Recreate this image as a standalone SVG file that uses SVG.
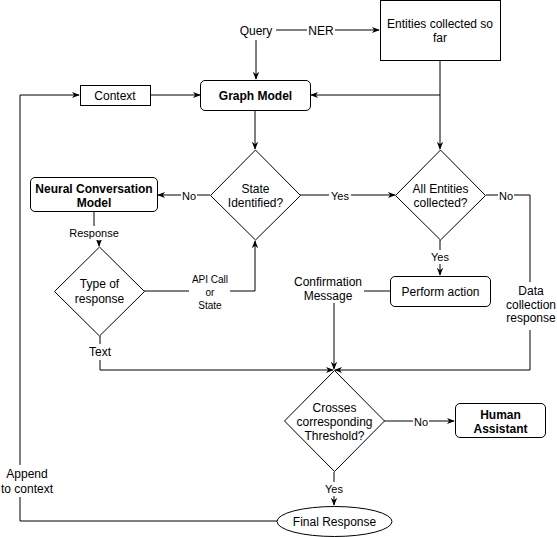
<svg xmlns="http://www.w3.org/2000/svg" width="557" height="537" viewBox="0 0 557 537">
<style>
text{font-family:"Liberation Sans",Arial,sans-serif;font-size:12px;fill:#000;text-anchor:middle;dominant-baseline:central}
.b{font-weight:bold}
.s{font-size:11px}
.xs{font-size:10px}
.shape{fill:#fff;stroke:#000;stroke-width:1}
.edge{fill:none;stroke:#000;stroke-width:1}
.lbg{fill:#fff;stroke:none}
</style>
<defs>
<marker id="arr" viewBox="0 0 10 10" refX="9" refY="5" markerWidth="8" markerHeight="8" markerUnits="userSpaceOnUse" orient="auto">
<path d="M0,1 L10,5 L0,9 L3,5 Z" fill="#000"/>
</marker>
</defs>
<rect width="557" height="537" fill="#fff"/>

<g id="connectors">
<path class="edge" d="M276,30 H379" marker-end="url(#arr)"/>
<path class="edge" d="M256,40 V79" marker-end="url(#arr)"/>
<path class="edge" d="M151,95 H200" marker-end="url(#arr)"/>
<path class="edge" d="M440,60 V95 H311" marker-end="url(#arr)"/>
<path class="edge" d="M440,95 V149" marker-end="url(#arr)"/>
<path class="edge" d="M255,110 V149" marker-end="url(#arr)"/>
<path class="edge" d="M210,195 H158" marker-end="url(#arr)"/>
<path class="edge" d="M300,195 H395" marker-end="url(#arr)"/>
<path class="edge" d="M440,240 V275" marker-end="url(#arr)"/>
<path class="edge" d="M486,195 H530 V370 H335" marker-end="url(#arr)"/>
<path class="edge" d="M390,291 H334 V369" marker-end="url(#arr)"/>
<path class="edge" d="M94,212 V233 H99 V246" marker-end="url(#arr)"/>
<path class="edge" d="M144,291 H255 V241" marker-end="url(#arr)"/>
<path class="edge" d="M100,336 V370 H333" marker-end="url(#arr)"/>
<path class="edge" d="M384,421 H454" marker-end="url(#arr)"/>
<path class="edge" d="M334,472 V505" marker-end="url(#arr)"/>
<path class="edge" d="M277,521 H20 V95 H79" marker-end="url(#arr)"/>

<rect class="lbg" x="307" y="23" width="28" height="15"/>
<text x="321" y="31">NER</text>
<rect class="lbg" x="181" y="189" width="16" height="14"/>
<text class="s" x="189" y="196">No</text>
<rect class="lbg" x="329" y="189" width="22" height="14"/>
<text class="s" x="340" y="196">Yes</text>
<rect class="lbg" x="429" y="250" width="22" height="14"/>
<text class="s" x="440" y="257">Yes</text>
<rect class="lbg" x="498" y="189" width="16" height="14"/>
<text class="s" x="506" y="196">No</text>
<rect class="lbg" x="504" y="282" width="53" height="48"/>
<text x="531" y="291">Data</text>
<text x="531" y="305">collection</text>
<text x="531" y="318">response</text>
<rect class="lbg" x="291" y="274" width="73" height="29"/>
<text x="328" y="282">Confirmation</text>
<text x="328" y="296">Message</text>
<rect class="lbg" x="67" y="226" width="54" height="14"/>
<text class="s" x="94" y="233">Response</text>
<rect class="lbg" x="189" y="272" width="41" height="39"/>
<text class="xs" x="210" y="279">API Call</text>
<text class="xs" x="210" y="292">or</text>
<text class="xs" x="210" y="305">State</text>
<rect class="lbg" x="88" y="344" width="25" height="16"/>
<text x="100" y="352">Text</text>
<rect class="lbg" x="413" y="415" width="16" height="14"/>
<text class="s" x="421" y="422">No</text>
<rect class="lbg" x="323" y="482" width="22" height="14"/>
<text class="s" x="334" y="489">Yes</text>
<rect class="lbg" x="0" y="465" width="56" height="32"/>
<text x="27" y="474">Append</text>
<text x="27" y="489">to context</text>
</g>

<g id="query">
<text x="256" y="31">Query</text>
</g>
<g id="entities">
<rect class="shape" x="380.5" y="0.5" width="120" height="60"/>
<text x="440" y="24">Entities collected so</text>
<text x="440" y="38">far</text>
</g>
<g id="context">
<rect class="shape" x="80.5" y="85.5" width="70" height="20"/>
<text x="115" y="95.5">Context</text>
</g>
<g id="graph-model">
<rect class="shape" x="200.5" y="80.5" width="110" height="30" rx="4.5"/>
<text class="b" x="255.5" y="96">Graph Model</text>
</g>
<g id="state-identified">
<polygon class="shape" points="255.5,150 300.5,195.5 255.5,240 210.5,195.5"/>
<text x="255.5" y="189">State</text>
<text x="255.5" y="203">Identified?</text>
</g>
<g id="all-entities">
<polygon class="shape" points="440.5,150 485.5,195.5 440.5,240 395.5,195.5"/>
<text x="440.5" y="189">All Entities</text>
<text x="440.5" y="203">collected?</text>
</g>
<g id="neural">
<rect class="shape" x="30.5" y="177.5" width="127" height="34" rx="4.5"/>
<text class="b" x="94" y="189">Neural Conversation</text>
<text class="b" x="94" y="203">Model</text>
</g>
<g id="type-of-response">
<polygon class="shape" points="99.5,247 144.5,291.5 99.5,336 54.5,291.5"/>
<text x="99.5" y="284">Type of</text>
<text x="99.5" y="299">response</text>
</g>
<g id="perform-action">
<rect class="shape" x="390.5" y="276.5" width="100" height="30" rx="4.5"/>
<text x="440.5" y="292">Perform action</text>
</g>
<g id="crosses">
<polygon class="shape" points="334.5,370.5 384.5,421 334.5,471.5 284.5,421"/>
<text x="334.5" y="408">Crosses</text>
<text x="334.5" y="422">corresponding</text>
<text x="334.5" y="436">Threshold?</text>
</g>
<g id="human">
<rect class="shape" x="455.5" y="403.5" width="90" height="34" rx="4.5"/>
<text class="b" x="500.5" y="415">Human</text>
<text class="b" x="500.5" y="429">Assistant</text>
</g>
<g id="final-response">
<ellipse class="shape" cx="334.5" cy="521.5" rx="57.5" ry="15"/>
<text x="334.5" y="522">Final Response</text>
</g>
</svg>
